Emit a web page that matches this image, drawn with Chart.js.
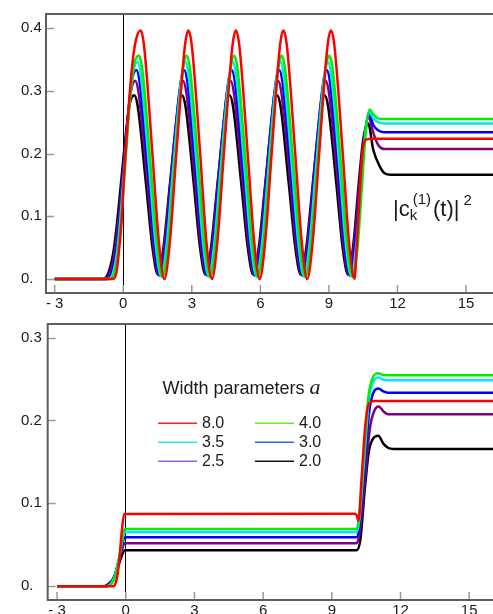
<!DOCTYPE html>
<html>
<head>
<meta charset="utf-8">
<script src="https://cdn.jsdelivr.net/npm/chart.js@4.4.1/dist/chart.umd.min.js"></script>
<style>
  html, body { margin: 0; padding: 0; background: #fff; }
  body { width: 493px; height: 614px; position: relative; overflow: hidden; }
  .panel { position: absolute; left: 0; width: 493px; }
  #top { top: 0; height: 312px; }
  #bottom { top: 312px; height: 302px; }
</style>
</head>
<body>
<div class="panel" id="top"><canvas id="chart-top"></canvas></div>
<div class="panel" id="bottom"><canvas id="chart-bottom"></canvas></div>
<script>
// width parameters a, in legend order
const widths = ['8.0', '4.0', '3.5', '3.0', '2.5', '2.0'];
const lineColors = ['#ff0000', '#00ee00', '#00e8f0', '#0000ff', '#800080', '#000000'];
const legendColors = ['#ff2020', '#66ee22', '#22e6f0', '#2266ff', '#aa55ee', '#111111'];

const xTicks = [-3, 0, 3, 6, 9, 12, 15];
const yTicksTop = [0, 0.1, 0.2, 0.3, 0.4];
const yTicksBottom = [0, 0.1, 0.2, 0.3];

// upper panel: |c_k^(1)(t)|^2, points [t, value]
const topA80 = [[-3,0],[-0.45,0],[-0.3,0.01],[-0.2,0.04],[-0.07,0.094],[0.08,0.19],[0.22,0.264],[0.37,0.333],[0.55,0.38],[0.76,0.396],
  [0.91,0.372],[1.28,0.198],[1.56,0.059],[1.80,0],[2.04,0.059],[2.32,0.198],[2.70,0.372],[2.85,0.396],
  [3.00,0.372],[3.37,0.198],[3.64,0.059],[3.88,0],[4.12,0.059],[4.40,0.198],[4.78,0.372],[4.93,0.396],
  [5.08,0.372],[5.45,0.198],[5.73,0.059],[5.97,0],[6.21,0.059],[6.49,0.198],[6.86,0.372],[7.01,0.396],
  [7.16,0.372],[7.53,0.198],[7.81,0.059],[8.05,0],[8.29,0.059],[8.57,0.198],[8.94,0.372],[9.09,0.396],
  [9.24,0.372],[9.61,0.198],[9.88,0.059],[10.12,0],
  [10.21,0.046],[10.31,0.11],[10.4,0.168],[10.5,0.211],[10.65,0.2226],[10.85,0.2236],[16.3,0.2236]];
const topA40 = [[-3,0],[-0.58,0],[-0.4,0.008],[-0.24,0.038],[-0.11,0.085],[0.01,0.145],[0.13,0.205],[0.28,0.28],[0.45,0.337],[0.68,0.356],
  [0.83,0.335],[1.20,0.18],[1.48,0.056],[1.72,0.003],[1.96,0.056],[2.24,0.18],[2.62,0.335],[2.77,0.356],
  [2.92,0.335],[3.29,0.18],[3.56,0.056],[3.80,0.003],[4.04,0.056],[4.32,0.18],[4.70,0.335],[4.85,0.356],
  [5.00,0.335],[5.37,0.18],[5.65,0.056],[5.89,0.003],[6.13,0.056],[6.41,0.18],[6.78,0.335],[6.93,0.356],
  [7.08,0.335],[7.45,0.18],[7.73,0.056],[7.97,0.003],[8.21,0.056],[8.49,0.18],[8.86,0.335],[9.01,0.356],
  [9.16,0.335],[9.53,0.18],[9.80,0.056],[10.04,0.003],
  [10.25,0.05],[10.45,0.15],[10.6,0.23],[10.78,0.27],[10.95,0.262],[11.15,0.256],[11.4,0.255],[16.3,0.255]];
const topA35 = [[-3,0],[-0.65,0],[-0.46,0.008],[-0.29,0.038],[-0.16,0.082],[-0.03,0.14],[0.1,0.2],[0.25,0.27],[0.41,0.325],[0.62,0.346],
  [0.77,0.325],[1.14,0.175],[1.42,0.055],[1.66,0.004],[1.90,0.055],[2.18,0.175],[2.56,0.325],[2.71,0.346],
  [2.86,0.325],[3.23,0.175],[3.50,0.055],[3.74,0.004],[3.98,0.055],[4.26,0.175],[4.64,0.325],[4.79,0.346],
  [4.94,0.325],[5.31,0.175],[5.59,0.055],[5.83,0.004],[6.07,0.055],[6.35,0.175],[6.72,0.325],[6.87,0.346],
  [7.02,0.325],[7.39,0.175],[7.67,0.055],[7.91,0.004],[8.15,0.055],[8.43,0.175],[8.80,0.325],[8.95,0.346],
  [9.10,0.325],[9.47,0.175],[9.74,0.055],[9.98,0.004],
  [10.2,0.055],[10.42,0.155],[10.58,0.228],[10.76,0.266],[10.95,0.256],[11.15,0.25],[11.4,0.248],[16.3,0.248]];
const topA30 = [[-3,0],[-0.72,0],[-0.52,0.008],[-0.34,0.038],[-0.2,0.08],[-0.06,0.137],[0.07,0.195],[0.21,0.26],[0.36,0.312],[0.57,0.333],
  [0.72,0.313],[1.09,0.169],[1.37,0.054],[1.61,0.005],[1.85,0.054],[2.13,0.169],[2.51,0.313],[2.66,0.333],
  [2.81,0.313],[3.18,0.169],[3.45,0.054],[3.69,0.005],[3.93,0.054],[4.21,0.169],[4.59,0.313],[4.74,0.333],
  [4.89,0.313],[5.26,0.169],[5.54,0.054],[5.78,0.005],[6.02,0.054],[6.30,0.169],[6.67,0.313],[6.82,0.333],
  [6.97,0.313],[7.34,0.169],[7.62,0.054],[7.86,0.005],[8.10,0.054],[8.38,0.169],[8.75,0.313],[8.90,0.333],
  [9.05,0.313],[9.42,0.169],[9.69,0.054],[9.93,0.005],
  [10.15,0.055],[10.38,0.15],[10.56,0.224],[10.75,0.263],[10.95,0.245],[11.15,0.237],[11.4,0.234],[16.3,0.234]];
const topA25 = [[-3,0],[-0.8,0],[-0.6,0.008],[-0.4,0.038],[-0.25,0.08],[-0.1,0.135],[0.04,0.19],[0.18,0.25],[0.32,0.295],[0.52,0.316],
  [0.67,0.297],[1.04,0.161],[1.32,0.053],[1.56,0.006],[1.80,0.053],[2.08,0.161],[2.46,0.297],[2.61,0.316],
  [2.76,0.297],[3.13,0.161],[3.40,0.053],[3.64,0.006],[3.88,0.053],[4.16,0.161],[4.54,0.297],[4.69,0.316],
  [4.84,0.297],[5.21,0.161],[5.49,0.053],[5.73,0.006],[5.97,0.053],[6.25,0.161],[6.62,0.297],[6.77,0.316],
  [6.92,0.297],[7.29,0.161],[7.57,0.053],[7.81,0.006],[8.05,0.053],[8.33,0.161],[8.70,0.297],[8.85,0.316],
  [9.00,0.297],[9.37,0.161],[9.64,0.053],[9.88,0.006],
  [10.1,0.055],[10.33,0.15],[10.53,0.222],[10.74,0.258],[10.95,0.232],[11.15,0.214],[11.45,0.207],[16.3,0.207]];
const topA20 = [[-3,0],[-0.9,0],[-0.66,0.009],[-0.44,0.041],[-0.29,0.083],[-0.14,0.137],[0,0.19],[0.15,0.243],[0.29,0.28],[0.48,0.293],
  [0.63,0.276],[1.00,0.15],[1.28,0.05],[1.52,0.007],[1.76,0.05],[2.04,0.15],[2.42,0.276],[2.57,0.293],
  [2.72,0.276],[3.09,0.15],[3.36,0.05],[3.60,0.007],[3.84,0.05],[4.12,0.15],[4.50,0.276],[4.65,0.293],
  [4.80,0.276],[5.17,0.15],[5.45,0.05],[5.69,0.007],[5.93,0.05],[6.21,0.15],[6.58,0.276],[6.73,0.293],
  [6.88,0.276],[7.25,0.15],[7.53,0.05],[7.77,0.007],[8.01,0.05],[8.29,0.15],[8.66,0.276],[8.81,0.293],
  [8.96,0.276],[9.33,0.15],[9.60,0.05],[9.84,0.007],
  [10.07,0.055],[10.3,0.15],[10.5,0.222],[10.72,0.248],[10.94,0.206],[11.23,0.179],[11.45,0.168],[11.7,0.166],[16.3,0.166]];

// lower panel
const botA80 = [[-3,0],[-0.55,0],[-0.4,0.008],[-0.3,0.027],[-0.17,0.067],[-0.07,0.087],[10.0,0.0875],[10.1,0.085],[10.16,0.079],
  [10.3,0.13],[10.45,0.19],[10.6,0.219],[10.85,0.2235],[16.2,0.2235]];
const botA40 = [[-3,0],[-0.78,0],[-0.55,0.006],[-0.4,0.018],[-0.25,0.04],[-0.12,0.062],[-0.04,0.069],[10.08,0.069],[10.2,0.085],
  [10.38,0.15],[10.6,0.229],[10.8,0.252],[11.03,0.257],[11.2,0.255],[11.4,0.2545],[16.2,0.2545]];
const botA35 = [[-3,0],[-0.82,0],[-0.6,0.005],[-0.44,0.016],[-0.28,0.036],[-0.14,0.057],[-0.05,0.065],[10.08,0.065],[10.2,0.08],
  [10.4,0.148],[10.62,0.225],[10.82,0.247],[11.05,0.2517],[11.25,0.249],[11.45,0.2485],[16.2,0.2485]];
const botA30 = [[-3,0],[-0.86,0],[-0.63,0.005],[-0.47,0.014],[-0.3,0.032],[-0.15,0.051],[-0.05,0.059],[10.08,0.059],[10.2,0.073],
  [10.42,0.14],[10.64,0.212],[10.84,0.235],[11.03,0.2386],[11.25,0.235],[11.45,0.2335],[16.2,0.2335]];
const botA25 = [[-3,0],[-0.9,0],[-0.66,0.005],[-0.5,0.012],[-0.32,0.028],[-0.16,0.045],[-0.05,0.052],[10.08,0.052],[10.22,0.065],
  [10.45,0.13],[10.66,0.19],[10.86,0.212],[11.05,0.2168],[11.25,0.211],[11.5,0.2073],[16.2,0.2073]];
const botA20 = [[-3,0],[-0.95,0],[-0.7,0.004],[-0.54,0.009],[-0.32,0.025],[-0.17,0.037],[-0.05,0.0435],[10.08,0.0435],[10.24,0.055],
  [10.45,0.12],[10.62,0.163],[10.8,0.178],[11.03,0.1815],[11.25,0.172],[11.45,0.167],[11.7,0.1656],[16.2,0.1656]];

const topSeries = [topA80, topA40, topA35, topA30, topA25, topA20];
const botSeries = [botA80, botA40, botA35, botA30, botA25, botA20];

const tickFont = { family: '"Liberation Sans", Arial, sans-serif', size: 15 };

function makeDatasets(series) {
    // first dataset is drawn on top (red)
    return series.map((pts, i) => ({
        label: widths[i],
        data: pts,
        borderColor: lineColors[i],
        borderWidth: 2.5,
        pointRadius: 0,
        fill: false,
        cubicInterpolationMode: 'monotone'
    }));
}

function makeScales(xmin, xmax, ymin, ymax, yTicks, yWidth, xHeight) {
    return {
        x: {
            type: 'linear', min: xmin, max: xmax,
            afterBuildTicks: s => { s.ticks = xTicks.map(v => ({ value: v })); },
            afterFit: s => { s.height = xHeight; },
            border: { display: false },
            grid: {
                drawTicks: false,
                color: c => (c.tick && c.tick.value === 0) ? '#000' : 'rgba(0,0,0,0)',
                lineWidth: 1
            },
            ticks: {
                autoSkip: false, maxRotation: 0, padding: 2, color: '#1a1a1a', font: tickFont,
                callback: v => v < 0 ? '- ' + Math.abs(v) : String(v)
            }
        },
        y: {
            min: ymin, max: ymax,
            afterBuildTicks: s => { s.ticks = yTicks.map(v => ({ value: v })); },
            afterFit: s => { s.width = yWidth; },
            border: { display: false },
            grid: { display: false },
            ticks: {
                crossAlign: 'far', color: '#1a1a1a', font: tickFont,
                callback: v => v === 0 ? '0.' : v.toFixed(1)
            }
        }
    };
}

// frame on left/top/bottom with inward ticks
const framePlugin = {
    id: 'frame',
    afterDraw(chart) {
        const { ctx, chartArea: a, scales } = chart;
        ctx.save();
        ctx.strokeStyle = '#9a9a9a';
        ctx.lineWidth = 1.5;
        ctx.beginPath();
        scales.y.ticks.forEach(t => {
            const y = Math.round(scales.y.getPixelForValue(t.value)) + 0.5;
            ctx.moveTo(a.left, y); ctx.lineTo(a.left + 8, y);
        });
        scales.x.ticks.forEach(t => {
            const x = scales.x.getPixelForValue(t.value);
            ctx.moveTo(x, a.bottom); ctx.lineTo(x, a.bottom - 8);
        });
        ctx.stroke();
        ctx.strokeStyle = '#5e5e5e';
        ctx.lineWidth = 2;
        ctx.beginPath();
        ctx.moveTo(chart.width, a.top);
        ctx.lineTo(a.left, a.top);
        ctx.lineTo(a.left, a.bottom);
        ctx.lineTo(chart.width, a.bottom);
        ctx.stroke();
        ctx.restore();
    }
};

// |c_k^(1)(t)|^2 label in the upper panel
const formulaPlugin = {
    id: 'formula',
    afterDraw(chart) {
        const ctx = chart.ctx;
        const big = '22px "Liberation Sans", Arial, sans-serif';
        const small = '15px "Liberation Sans", Arial, sans-serif';
        const base = 216;
        let x = 393;
        ctx.save();
        ctx.fillStyle = '#1a1a1a';
        ctx.textBaseline = 'alphabetic';
        ctx.font = big;
        ctx.fillText('|c', x, base);
        x += ctx.measureText('|c').width;
        ctx.font = small;
        ctx.fillText('k', x, base + 4);
        ctx.fillText('(1)', x + 3, base - 12);
        x += 3 + ctx.measureText('(1)').width + 2;
        ctx.font = big;
        ctx.fillText('(t)|', x, base);
        x += ctx.measureText('(t)|').width + 4;
        ctx.font = small;
        ctx.fillText('2', x, base - 11);
        ctx.restore();
    }
};

// legend inside the lower panel, two columns
const legendPlugin = {
    id: 'widthLegend',
    afterDraw(chart) {
        const ctx = chart.ctx;
        const cols = [158, 255];
        const rows = [111.3, 130.3, 149.3];
        ctx.save();
        ctx.fillStyle = '#1a1a1a';
        ctx.textBaseline = 'alphabetic';
        ctx.font = '18px "Liberation Sans", Arial, sans-serif';
        const title = 'Width parameters ';
        ctx.fillText(title, 162.5, 82);
        const tw = ctx.measureText(title).width;
        ctx.font = 'italic 22px "Liberation Serif", "DejaVu Serif", serif';
        ctx.fillText('a', 162.5 + tw, 82);
        ctx.font = '16px "Liberation Sans", Arial, sans-serif';
        ctx.textBaseline = 'middle';
        chart.data.datasets.forEach((ds, i) => {
            const cx = cols[i % 2];
            const cy = rows[Math.floor(i / 2)];
            ctx.strokeStyle = legendColors[i];
            ctx.lineWidth = 1.5;
            ctx.beginPath();
            ctx.moveTo(cx, cy); ctx.lineTo(cx + 39, cy);
            ctx.stroke();
            ctx.fillText(ds.label, cx + 44, cy + 0.5);
        });
        ctx.restore();
    }
};

const baseOptions = {
    responsive: true,
    maintainAspectRatio: false,
    animation: false,
    events: [],
    plugins: { legend: { display: false }, tooltip: { enabled: false } }
};

new Chart(document.getElementById('chart-top').getContext('2d'), {
    type: 'line',
    data: { datasets: makeDatasets(topSeries) },
    options: Object.assign({}, baseOptions, {
        layout: { padding: { left: 21, top: 14, right: 0, bottom: 0 } },
        scales: makeScales(-3.38, 16.18, -0.0223, 0.4223, yTicksTop, 25, 19)
    }),
    plugins: [framePlugin, formulaPlugin]
});

new Chart(document.getElementById('chart-bottom').getContext('2d'), {
    type: 'line',
    data: { datasets: makeDatasets(botSeries) },
    options: Object.assign({}, baseOptions, {
        layout: { padding: { left: 21, top: 8, right: 0, bottom: 0 } },
        scales: makeScales(-3.41, 16.04, -0.0166, 0.3163, yTicksBottom, 26.7, 14)
    }),
    plugins: [framePlugin, legendPlugin]
});
</script>
</body>
</html>
